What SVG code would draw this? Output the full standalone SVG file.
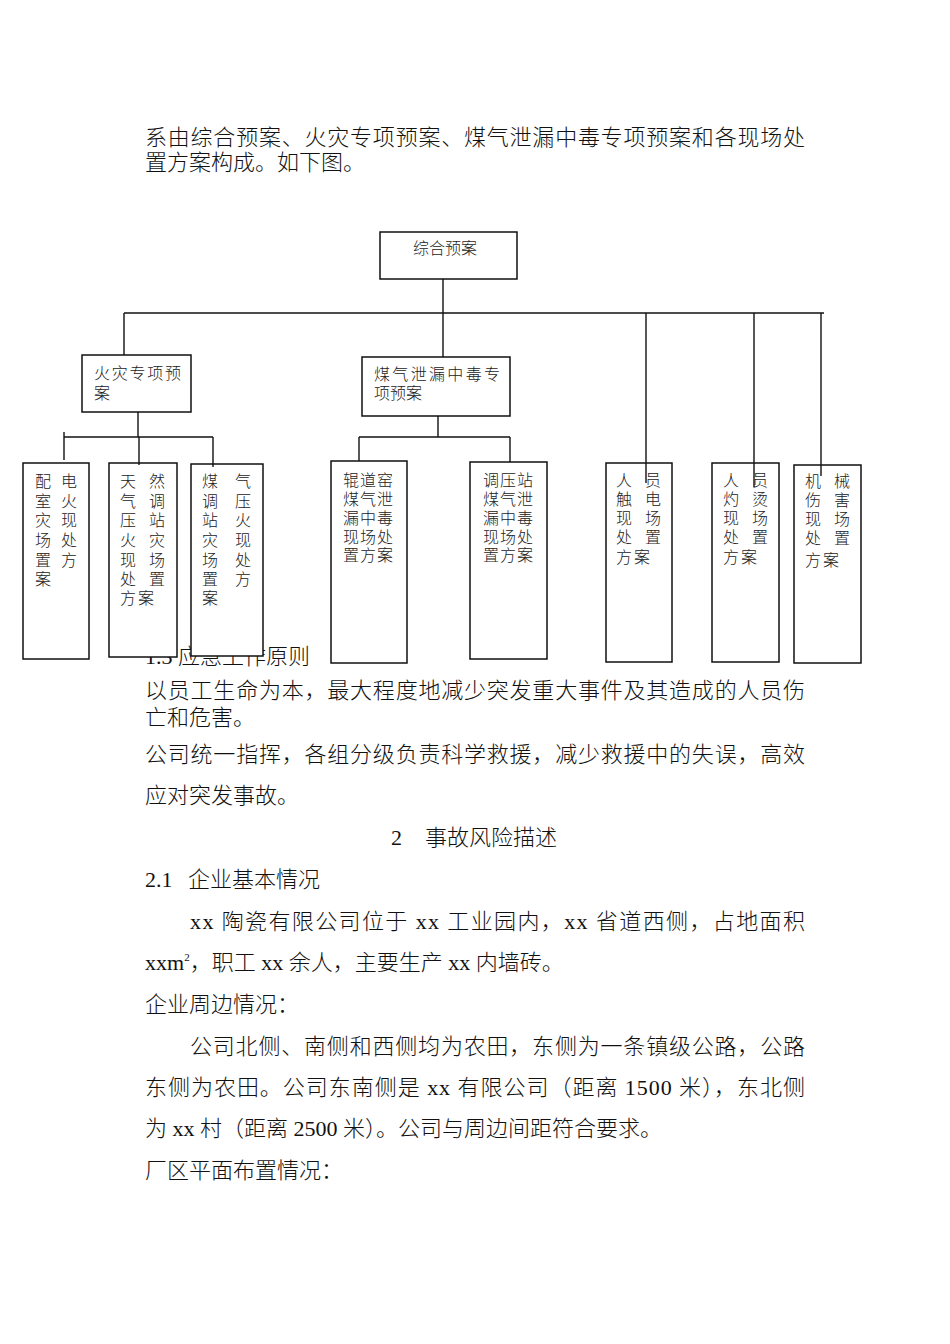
<svg xmlns="http://www.w3.org/2000/svg" width="950" height="1344" viewBox="0 0 950 1344">
<style>
.body{font-family:"Liberation Serif","Noto Sans CJK SC",serif;font-size:22px;font-weight:300;fill:#111}
.lat{font-family:"Liberation Serif",serif;font-size:22px;font-weight:400}
.bt{font-family:"Liberation Serif","Noto Sans CJK SC",serif;font-size:16px;font-weight:300;fill:#222}
.vt{font-family:"Liberation Serif","Noto Sans CJK SC",serif;font-size:16px;font-weight:300;fill:#222;text-anchor:middle}
.box{fill:#fff;stroke:#111;stroke-width:1.5}
.ln{stroke:#111;stroke-width:1.4;fill:none}
</style>
<rect width="950" height="1344" fill="#fff"/>
<g id="body-text" class="body">
<text x="145" y="145" textLength="660" lengthAdjust="spacing">系由综合预案、火灾专项预案、煤气泄漏中毒专项预案和各现场处</text>
<text x="145" y="170">置方案构成。如下图。</text>
<text x="145" y="664"><tspan class="lat">1.3 </tspan>应急工作原则</text>
<text x="145" y="698" textLength="660" lengthAdjust="spacing">以员工生命为本，最大程度地减少突发重大事件及其造成的人员伤</text>
<text x="145" y="725">亡和危害。</text>
<text x="145" y="762" textLength="660" lengthAdjust="spacing">公司统一指挥，各组分级负责科学救援，减少救援中的失误，高效</text>
<text x="145" y="803">应对突发事故。</text>
<text x="391" y="845"><tspan class="lat">2</tspan><tspan x="425">事故风险描述</tspan></text>
<text x="145" y="887"><tspan class="lat">2.1</tspan><tspan x="188">企业基本情况</tspan></text>
<text x="190" y="929" textLength="615" lengthAdjust="spacing"><tspan class="lat">xx </tspan>陶瓷有限公司位于<tspan class="lat"> xx </tspan>工业园内，<tspan class="lat">xx </tspan>省道西侧，占地面积</text>
<text x="145" y="970"><tspan class="lat">xxm</tspan><tspan font-size="11" dy="-9">2</tspan><tspan dy="9">，职工</tspan><tspan class="lat"> xx </tspan>余人，主要生产<tspan class="lat"> xx </tspan>内墙砖。</text>
<text x="145" y="1012">企业周边情况：</text>
<text x="190" y="1054" textLength="615" lengthAdjust="spacing">公司北侧、南侧和西侧均为农田，东侧为一条镇级公路，公路</text>
<text x="145" y="1095" textLength="660" lengthAdjust="spacing">东侧为农田。公司东南侧是<tspan class="lat"> xx </tspan>有限公司（距离<tspan class="lat"> 1500 </tspan>米），东北侧</text>
<text x="145" y="1136">为<tspan class="lat"> xx </tspan>村（距离<tspan class="lat"> 2500 </tspan>米）。公司与周边间距符合要求。</text>
<text x="145" y="1178">厂区平面布置情况：</text>
</g>
<g id="connectors" class="ln">
<line x1="443" y1="279" x2="443" y2="357"/>
<line x1="124" y1="313" x2="824" y2="313"/>
<line x1="124" y1="313" x2="124" y2="355"/>
<line x1="646" y1="313" x2="646" y2="483"/>
<line x1="754" y1="313" x2="754" y2="487"/>
<line x1="821" y1="313" x2="821" y2="476"/>
<line x1="138" y1="412" x2="138" y2="437"/>
<line x1="64" y1="437" x2="213" y2="437"/>
<line x1="64" y1="432" x2="64" y2="460"/>
<line x1="139" y1="437" x2="139" y2="463"/>
<line x1="213" y1="437" x2="213" y2="467"/>
<line x1="438" y1="416" x2="438" y2="437"/>
<line x1="359" y1="437" x2="510" y2="437"/>
<line x1="359" y1="437" x2="359" y2="465"/>
<line x1="510" y1="437" x2="510" y2="465"/>
</g>
<g id="n-top">
<rect class="box" x="380" y="232" width="137" height="47"/>
<text class="bt" x="413" y="254">综合预案</text>
</g>
<g id="n-fire">
<rect class="box" x="82" y="355" width="109" height="57"/>
<text class="bt" x="94" y="379" textLength="87" lengthAdjust="spacing">火灾专项预</text>
<text class="bt" x="94" y="399">案</text>
</g>
<g id="n-gas">
<rect class="box" x="362" y="357" width="148" height="59"/>
<text class="bt" x="374" y="380" textLength="126" lengthAdjust="spacing">煤气泄漏中毒专</text>
<text class="bt" x="374" y="399">项预案</text>
</g>
<g id="n-f1">
<rect class="box" x="23" y="463" width="66" height="196"/>
<text class="vt" x="43 69" y="487">配电</text>
<text class="vt" x="43 69" y="507">室火</text>
<text class="vt" x="43 69" y="526">灾现</text>
<text class="vt" x="43 69" y="546">场处</text>
<text class="vt" x="43 69" y="566">置方</text>
<text class="vt" x="43" y="585">案</text>
</g>
<g id="n-f2">
<rect class="box" x="109" y="463" width="68" height="194"/>
<text class="vt" x="128 157" y="487">天然</text>
<text class="vt" x="128 157" y="507">气调</text>
<text class="vt" x="128 157" y="526">压站</text>
<text class="vt" x="128 157" y="546">火灾</text>
<text class="vt" x="128 157" y="566">现场</text>
<text class="vt" x="128 157" y="585">处置</text>
<text class="vt" x="128 146" y="604">方案</text>
</g>
<g id="n-f3">
<rect class="box" x="191" y="464" width="72" height="192"/>
<text class="vt" x="210 243" y="487">煤气</text>
<text class="vt" x="210 243" y="507">调压</text>
<text class="vt" x="210 243" y="526">站火</text>
<text class="vt" x="210 243" y="546">灾现</text>
<text class="vt" x="210 243" y="566">场处</text>
<text class="vt" x="210 243" y="585">置方</text>
<text class="vt" x="210" y="604">案</text>
</g>
<g id="n-g1">
<rect class="box" x="331" y="461" width="76" height="202"/>
<text class="vt" x="351 368 385" y="486">辊道窑</text>
<text class="vt" x="351 368 385" y="505">煤气泄</text>
<text class="vt" x="351 368 385" y="524">漏中毒</text>
<text class="vt" x="351 368 385" y="543">现场处</text>
<text class="vt" x="351 368 385" y="561">置方案</text>
</g>
<g id="n-g2">
<rect class="box" x="470" y="462" width="77" height="197"/>
<text class="vt" x="491 508 525" y="486">调压站</text>
<text class="vt" x="491 508 525" y="505">煤气泄</text>
<text class="vt" x="491 508 525" y="524">漏中毒</text>
<text class="vt" x="491 508 525" y="543">现场处</text>
<text class="vt" x="491 508 525" y="561">置方案</text>
</g>
<g id="n-e1">
<rect class="box" x="606" y="463" width="66" height="199"/>
<text class="vt" x="624 653" y="486">人员</text>
<text class="vt" x="624 653" y="505">触电</text>
<text class="vt" x="624 653" y="524">现场</text>
<text class="vt" x="624 653" y="543">处置</text>
<text class="vt" x="624 642" y="563">方案</text>
</g>
<g id="n-e2">
<rect class="box" x="712" y="463" width="67" height="199"/>
<text class="vt" x="731 760" y="486">人员</text>
<text class="vt" x="731 760" y="505">灼烫</text>
<text class="vt" x="731 760" y="524">现场</text>
<text class="vt" x="731 760" y="543">处置</text>
<text class="vt" x="731 749" y="563">方案</text>
</g>
<g id="n-e3">
<rect class="box" x="794" y="465" width="67" height="198"/>
<text class="vt" x="813 842" y="487">机械</text>
<text class="vt" x="813 842" y="506">伤害</text>
<text class="vt" x="813 842" y="525">现场</text>
<text class="vt" x="813 842" y="544">处置</text>
<text class="vt" x="813 831" y="566">方案</text>
</g>
<g id="overlay-lines" class="ln">
<line x1="646" y1="463" x2="646" y2="483"/>
<line x1="754" y1="463" x2="754" y2="487"/>
<line x1="821" y1="465" x2="821" y2="476"/>
<line x1="139" y1="463" x2="139" y2="465"/>
<line x1="213" y1="464" x2="213" y2="467"/>
</g>
</svg>
